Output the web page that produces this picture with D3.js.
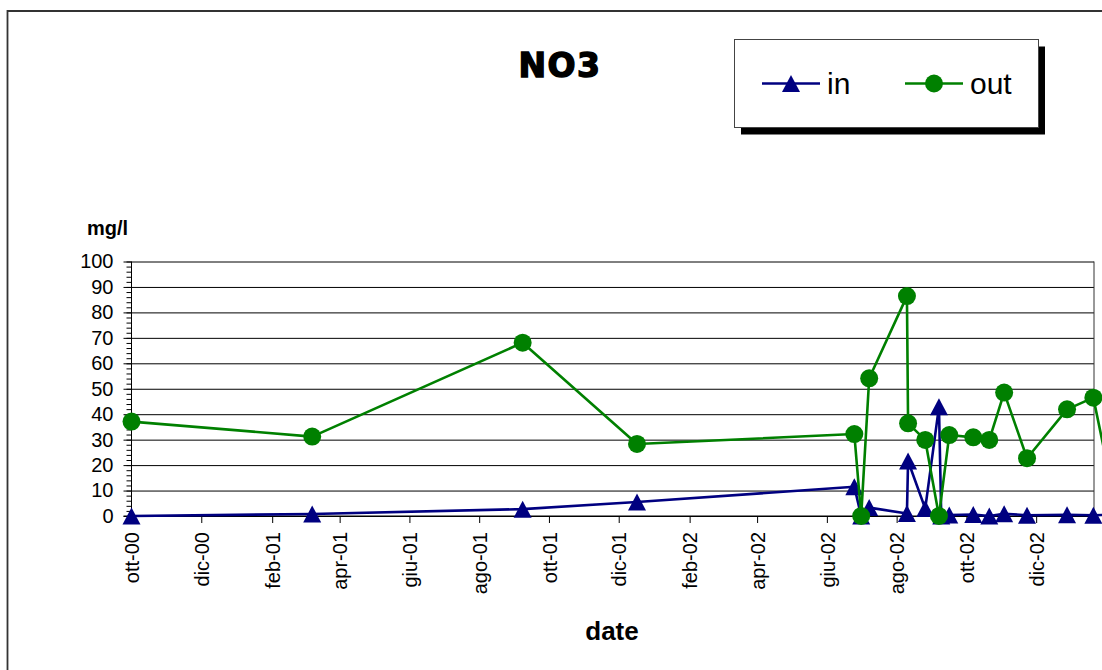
<!DOCTYPE html>
<html>
<head>
<meta charset="utf-8">
<script src="https://cdnjs.cloudflare.com/ajax/libs/d3/7.8.5/d3.min.js"></script>
<style>
body { margin: 0; background: #fff; }
svg text { font-family: "Liberation Sans", Arial, sans-serif; fill: #000; }
</style>
</head>
<body>
<div id="chart-area"></div>
<script>
// sampling dates and NO3 concentrations (mg/l)
var inDates = ["2000-10-01", "2001-03-08", "2001-09-08", "2001-12-17", "2002-06-25", "2002-07-01",
  "2002-07-08", "2002-08-10", "2002-08-11", "2002-08-26", "2002-09-07", "2002-09-09", "2002-09-16",
  "2002-10-07", "2002-10-21", "2002-11-03", "2002-11-23", "2002-12-28", "2003-01-20", "2003-02-09"];
var inValues = [0, 0.8, 2.7, 5.5, 11.5, 0, 3.3, 1.0, 21.6, 2.9, 42.9, 0, 0.4,
  0.6, 0, 0.9, 0.3, 0.5, 0.3, 0.5];

var outDates = ["2000-10-01", "2001-03-08", "2001-09-08", "2001-12-17", "2002-06-25", "2002-07-01",
  "2002-07-08", "2002-08-10", "2002-08-11", "2002-08-26", "2002-09-07", "2002-09-16",
  "2002-10-07", "2002-10-21", "2002-11-03", "2002-11-23", "2002-12-28", "2003-01-20", "2003-02-09"];
var outValues = [37.1, 31.2, 68.1, 28.3, 32.2, 0, 54.1, 86.4, 36.4, 29.9, 0, 31.8,
  30.9, 29.9, 48.5, 22.7, 41.9, 46.5, 3];

var xTicks = ["2000-10-01", "2000-12-01", "2001-02-01", "2001-04-01", "2001-06-01", "2001-08-01",
  "2001-10-01", "2001-12-01", "2002-02-01", "2002-04-01", "2002-06-01", "2002-08-01",
  "2002-10-01", "2002-12-01"];
var monthNames = ["gen", "feb", "mar", "apr", "mag", "giu", "lug", "ago", "set", "ott", "nov", "dic"];
var yTicks = [0, 10, 20, 30, 40, 50, 60, 70, 80, 90, 100];
var yMinorTicks = d3.range(0, 101, 2);
var xDomain = ["2000-10-01", "2003-01-21"];

var width = 1102;
var height = 670;
var plot = { left: 131.5, right: 1094.5, top: 261.5, bottom: 516 };

var parseDate = d3.timeParse("%Y-%m-%d");
var formatYear = d3.timeFormat("%y");

var svg = d3.select("#chart-area")
  .append("svg")
  .attr("width", width)
  .attr("height", height)
  .style("display", "block");

svg.append("rect")
  .attr("width", width)
  .attr("height", height)
  .attr("fill", "#fff");

// chart border (cut off on right and bottom)
svg.append("path")
  .attr("d", "M7.5," + (height + 5) + "V11H" + (width + 5))
  .attr("fill", "none")
  .attr("stroke", "#333")
  .attr("stroke-width", 1.8);

var x = d3.scaleTime()
  .domain(xDomain.map(parseDate))
  .range([plot.left, plot.right]);

var y = d3.scaleLinear()
  .domain([0, 100])
  .range([plot.bottom, plot.top]);

// gridlines
svg.append("g")
  .attr("transform", "translate(" + plot.left + ",0)")
  .call(d3.axisLeft(y).tickValues(yTicks).tickSize(-(plot.right - plot.left - 0.5)).tickFormat(""))
  .call(function(g){ g.select(".domain").remove(); })
  .selectAll("line").attr("stroke", "#000");

// plot right border
svg.append("line")
  .attr("x1", plot.right - 0.5).attr("x2", plot.right - 0.5)
  .attr("y1", plot.top).attr("y2", plot.bottom)
  .attr("stroke", "#333");

// y minor ticks
svg.append("g")
  .attr("transform", "translate(" + plot.left + ",0)")
  .call(d3.axisLeft(y).tickValues(yMinorTicks).tickSize(5).tickFormat(""))
  .call(function(g){ g.select(".domain").remove(); })
  .selectAll("line").attr("stroke", "#000");

// y axis
var yAxisGroup = svg.append("g")
  .attr("transform", "translate(" + plot.left + ",0)")
  .call(d3.axisLeft(y).tickValues(yTicks).tickSize(8).tickPadding(10));
yAxisGroup.select(".domain").attr("stroke", "#000").attr("d", "M0," + plot.top + "V" + (plot.bottom + 8));
yAxisGroup.selectAll("line").attr("stroke", "#000");
yAxisGroup.selectAll("text")
  .style("font-size", "20px")
  .attr("fill", "#000");

// x axis
var xAxisGroup = svg.append("g")
  .attr("transform", "translate(0," + plot.bottom + ")")
  .call(d3.axisBottom(x)
    .tickValues(xTicks.map(parseDate))
    .tickSize(7)
    .tickFormat(function(d){
      return monthNames[d.getMonth()] + "-" + formatYear(d);
    }));
xAxisGroup.select(".domain").attr("stroke", "#000").attr("d", "M" + (plot.left - 8) + ",0H" + (plot.right - 0.5));
xAxisGroup.selectAll("line").attr("stroke", "#000");
xAxisGroup.selectAll("text")
  .style("font-size", "20px")
  .attr("fill", "#000")
  .attr("text-anchor", "end")
  .attr("transform", "rotate(-90)")
  .attr("x", -16)
  .attr("y", 0)
  .attr("dy", "0.36em");

// data series
var inData = inDates.map(function(d, i){
  return { date: parseDate(d), value: inValues[i] };
});
var outData = outDates.map(function(d, i){
  return { date: parseDate(d), value: outValues[i] };
});

var line = d3.line()
  .x(function(d){ return x(d.date); })
  .y(function(d){ return y(d.value); });

var triangle = "M0,-8.5L9,8.5L-9,8.5Z";

svg.append("path")
  .datum(inData)
  .attr("d", line)
  .attr("fill", "none")
  .attr("stroke", "#000080")
  .attr("stroke-width", 2.6)
  .attr("stroke-linejoin", "round");

svg.selectAll(".tri")
  .data(inData)
  .enter()
  .append("path")
  .attr("class", "tri")
  .attr("d", triangle)
  .attr("transform", function(d){ return "translate(" + x(d.date) + "," + y(d.value) + ")"; })
  .attr("fill", "#000080");

svg.append("path")
  .datum(outData)
  .attr("d", line)
  .attr("fill", "none")
  .attr("stroke", "#008000")
  .attr("stroke-width", 2.6)
  .attr("stroke-linejoin", "round");

svg.selectAll(".dot")
  .data(outData)
  .enter()
  .append("circle")
  .attr("class", "dot")
  .attr("cx", function(d){ return x(d.date); })
  .attr("cy", function(d){ return y(d.value); })
  .attr("r", 9)
  .attr("fill", "#008000");

// titles
svg.append("text")
  .attr("x", 560)
  .attr("y", 77)
  .attr("text-anchor", "middle")
  .style("font-family", "'DejaVu Sans', sans-serif")
  .style("font-weight", "bold")
  .style("font-size", "33px")
  .style("letter-spacing", "1.5px")
  .attr("stroke", "#000")
  .attr("stroke-width", 1.4)
  .text("NO3");

svg.append("text")
  .attr("x", 87)
  .attr("y", 235)
  .style("font-weight", "bold")
  .style("font-size", "20px")
  .text("mg/l");

svg.append("text")
  .attr("x", 612)
  .attr("y", 640)
  .attr("text-anchor", "middle")
  .style("font-weight", "bold")
  .style("font-size", "26px")
  .text("date");

// legend
var legend = svg.append("g");
legend.append("rect")
  .attr("x", 741).attr("y", 46.5)
  .attr("width", 304).attr("height", 88)
  .attr("fill", "#000");
legend.append("rect")
  .attr("x", 734.5).attr("y", 39.5)
  .attr("width", 304).attr("height", 88)
  .attr("fill", "#fff")
  .attr("stroke", "#444");

legend.append("line")
  .attr("x1", 762).attr("x2", 820).attr("y1", 83.5).attr("y2", 83.5)
  .attr("stroke", "#000080").attr("stroke-width", 2.6);
legend.append("path")
  .attr("d", triangle)
  .attr("transform", "translate(791,83.5)")
  .attr("fill", "#000080");
legend.append("text")
  .attr("x", 827).attr("y", 94)
  .style("font-size", "30px")
  .text("in");

legend.append("line")
  .attr("x1", 905).attr("x2", 963).attr("y1", 83.5).attr("y2", 83.5)
  .attr("stroke", "#008000").attr("stroke-width", 2.6);
legend.append("circle")
  .attr("cx", 934).attr("cy", 83.5).attr("r", 9)
  .attr("fill", "#008000");
legend.append("text")
  .attr("x", 970).attr("y", 94)
  .style("font-size", "30px")
  .text("out");
</script>
</body>
</html>
